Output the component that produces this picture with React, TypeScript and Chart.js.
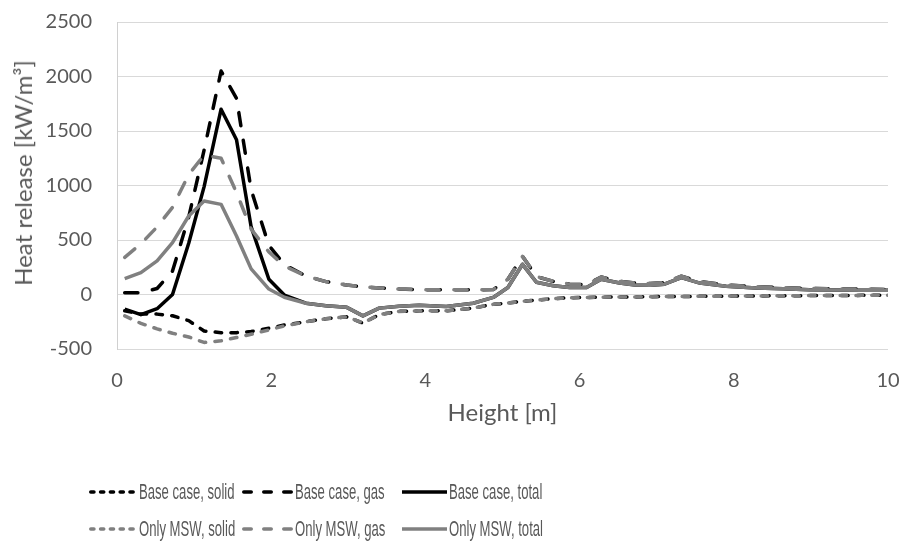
import React, { useEffect, useRef } from "react";
import { Chart, registerables } from "chart.js";

Chart.register(...registerables);

// Height [m]
const heights = [
  0.1, 0.31, 0.52, 0.72, 0.93, 1.13, 1.35, 1.55, 1.74, 1.97, 2.17, 2.45, 2.71, 2.98, 3.19, 3.4, 3.66,
  3.92, 4.27, 4.62, 4.88, 5.07, 5.26, 5.44, 5.66, 5.87, 6.09, 6.28, 6.52, 6.72, 6.92, 7.1, 7.32, 7.56,
  7.9, 8.29, 8.64, 8.98, 9.32, 9.66, 10.0,
];

// Heat release [kW/m³]
const baseSolid = [
  -150, -180, -180, -195, -240, -335, -350, -350, -340, -310, -280, -250, -222, -205, -262, -185, -155,
  -150, -150, -125, -90, -78, -62, -52, -38, -30, -27, -25, -23, -22, -20, -19, -18, -17,
  -15, -13, -12, -10, -9, -8, -6,
];
const baseGas = [
  15, 15, 55, 215, 710, 1325, 2050, 1800, 960, 450, 275, 170, 118, 87, 70, 60, 50,
  45, 43, 43, 45, 140, 350, 165, 120, 95, 90, 160, 120, 105, 100, 110, 168, 118,
  88, 72, 63, 55, 52, 50, 46,
];
const baseTotal = [
  -135, -185, -130, 0, 470, 990, 1700, 1420, 620, 140, -5, -80, -104, -118, -196, -125, -108,
  -98, -110, -80, -27, 64, 277, 112, 80, 64, 64, 140, 105, 88, 85, 95, 155, 105,
  75, 60, 52, 43, 42, 40, 38,
];
const mswSolid = [
  -196, -265, -315, -355, -390, -440, -425, -395, -365, -325, -288, -250, -222, -205, -262, -185, -155,
  -150, -150, -125, -90, -78, -62, -52, -38, -30, -27, -25, -23, -22, -20, -19, -18, -17,
  -15, -13, -12, -10, -9, -8, -6,
];
const mswGas = [
  340, 465, 620, 800, 1100, 1280, 1250, 935, 600, 390, 262, 170, 118, 87, 70, 60, 50,
  45, 43, 43, 45, 140, 350, 165, 120, 95, 90, 160, 120, 105, 100, 110, 168, 118,
  88, 72, 63, 55, 52, 50, 46,
];
const mswTotal = [
  146, 200, 308, 476, 720, 857, 827, 537, 235, 50, -25, -80, -104, -118, -196, -125, -108,
  -98, -110, -80, -27, 64, 277, 112, 80, 64, 64, 140, 105, 88, 85, 95, 155, 105,
  75, 60, 52, 43, 42, 40, 38,
];

const seriesLabels = [
  "Base case, solid",
  "Base case, gas",
  "Base case, total",
  "Only MSW, solid",
  "Only MSW, gas",
  "Only MSW, total",
];
const seriesValues = [baseSolid, baseGas, baseTotal, mswSolid, mswGas, mswTotal];
const seriesColors = ["#000000", "#000000", "#000000", "#808080", "#808080", "#808080"];
const seriesKinds = ["dot", "dash", "solid", "dot", "dash", "solid"];

const yTicks = { min: -500, max: 2500, step: 500 };
const xTicks = { min: 0, max: 10, step: 2 };
const xTitle = "Height [m]";
const yTitle = "Heat release [kW/m³]";

const LW = 3.5;
const chartDash: Record<string, number[]> = {
  dot: [6.5, 9.3],
  dash: [13.2, 14.8],
  solid: [],
};
const legendDash: Record<string, string> = {
  dot: "3.2 6.6",
  dash: "7.5 12.5",
  solid: "",
};

const FONT = "Lato, 'Open Sans', sans-serif";
const TEXT = "#595959";

export default function App() {
  const ref = useRef<HTMLCanvasElement | null>(null);

  useEffect(() => {
    if (!ref.current) return;
    const datasets = seriesLabels.map((label, k) => ({
      label,
      data: heights.map((h, i) => ({ x: h, y: seriesValues[k][i] })),
      showLine: true,
      borderColor: seriesColors[k],
      backgroundColor: seriesColors[k],
      borderWidth: LW,
      borderDash: chartDash[seriesKinds[k]],
      borderCapStyle: seriesKinds[k] === "solid" ? "butt" : "round",
      borderJoinStyle: "round",
      pointRadius: 0,
      pointHoverRadius: 0,
      tension: 0,
      order: 6 - k,
    }));
    const chart = new Chart(ref.current, {
      type: "scatter",
      data: { datasets: datasets as any },
      options: {
        responsive: false,
        animation: false,
        layout: { padding: { left: 0, top: 22, right: 16, bottom: 118 } },
        plugins: { legend: { display: false }, tooltip: { enabled: false } },
        scales: {
          x: {
            type: "linear",
            min: xTicks.min,
            max: xTicks.max,
            afterFit: (s: any) => {
              s.height = 81;
              s.paddingLeft = 0;
              s.paddingRight = 0;
            },
            grid: { display: false, drawTicks: false },
            border: { display: false },
            ticks: {
              stepSize: xTicks.step,
              color: TEXT,
              padding: 20,
              font: { family: FONT, size: 20 },
              maxRotation: 0,
              callback: (v: any) => String(v),
            },
            title: {
              display: true,
              text: xTitle,
              color: TEXT,
              font: { family: FONT, size: 24 },
              padding: { top: 2, bottom: 2 },
            },
          },
          y: {
            type: "linear",
            min: yTicks.min,
            max: yTicks.max,
            afterFit: (s: any) => {
              s.width = 117;
              s.paddingTop = 0;
              s.paddingBottom = 0;
            },
            grid: { color: "#D9D9D9", lineWidth: 1, drawTicks: false },
            border: { display: true, color: "#D0D0D0", width: 1 },
            ticks: {
              stepSize: yTicks.step,
              color: TEXT,
              padding: 25,
              font: { family: FONT, size: 20 },
              callback: (v: any) => String(v),
            },
            title: { display: false },
          },
        },
      } as any,
    });
    return () => chart.destroy();
  }, []);

  const cols = [
    { line: 89, len: 48 },
    { line: 242, len: 51 },
    { line: 402, len: 45 },
  ];
  const rows = [492, 529];

  return (
    <div
      style={{
        position: "fixed",
        left: 0,
        top: 0,
        width: 904,
        height: 548,
        background: "#ffffff",
        overflow: "hidden",
      }}
    >
      <canvas
        ref={ref}
        width={904}
        height={548}
        style={{ position: "absolute", left: 0, top: 0, width: 904, height: 548 }}
      />
      <div
        style={{
          position: "absolute",
          left: 23,
          top: 173,
          transform: "translate(-50%, -50%) rotate(-90deg)",
          whiteSpace: "nowrap",
          fontFamily: FONT,
          fontSize: 24,
          lineHeight: "28px",
          color: TEXT,
        }}
      >
        {yTitle}
      </div>
      {seriesLabels.map((label, k) => {
        const r = Math.floor(k / 3);
        const c = k % 3;
        const col = cols[c];
        const y = rows[r];
        const kind = seriesKinds[k];
        return (
          <div
            key={label}
            style={{
              position: "absolute",
              left: col.line,
              top: y - 14,
              height: 28,
              display: "flex",
              alignItems: "center",
              whiteSpace: "nowrap",
            }}
          >
            <svg width={col.len} height={10} style={{ display: "block", flex: "none" }}>
              <line
                x1={kind === "solid" ? 0 : LW / 2}
                y1={5}
                x2={kind === "solid" ? col.len : col.len - LW / 2}
                y2={5}
                stroke={seriesColors[k]}
                strokeWidth={LW}
                strokeLinecap={kind === "solid" ? "butt" : "round"}
                strokeDasharray={legendDash[kind] || undefined}
              />
            </svg>
            <span
              style={{
                marginLeft: 2,
                display: "inline-block",
                fontFamily: "'Liberation Sans', sans-serif",
                fontSize: 21.5,
                color: TEXT,
                lineHeight: "28px",
                transform: "scaleX(0.61)",
                transformOrigin: "0 50%",
              }}
            >
              {label}
            </span>
          </div>
        );
      })}
    </div>
  );
}
